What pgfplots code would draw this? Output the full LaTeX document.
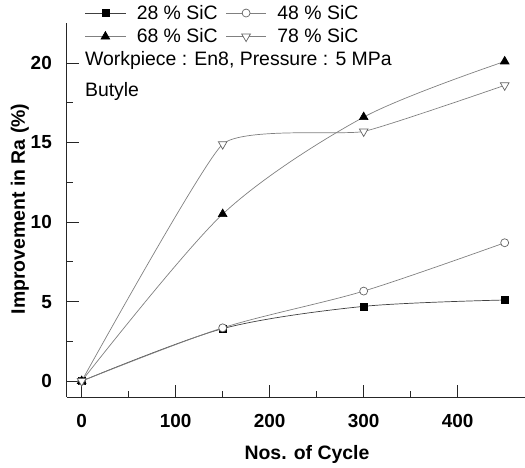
\documentclass[border=0pt]{standalone}
\usepackage{fontspec}
\setmainfont{Liberation Sans}
\usepackage{pgfplots}
\pgfplotsset{compat=1.18}
\definecolor{curve}{RGB}{128,128,128}
\definecolor{edge}{RGB}{100,100,100}
\begin{document}
\begin{tikzpicture}
\useasboundingbox (-67bp,-71bp) rectangle (458bp,397bp);
\begin{axis}[
    scale only axis,
    width=458bp, height=374bp,
    xmin=-15.6, xmax=471.6,
    ymin=-1, ymax=22.52,
    axis lines*=left,
    axis line style={line width=1bp, black!85},
    tick align=inside,
    major tick length=12bp, minor tick length=6bp,
    tick style={line width=0.9bp, black!85},
    xtick={0,100,...,400}, ytick={0,5,...,20},
    minor x tick num=1, minor y tick num=1,
    /pgf/number format/assume math mode=true,
    ticklabel style={font=\bfseries\fontsize{19}{22}\selectfont, inner sep=0pt},
    xticklabel style={anchor=base, yshift=-30bp},
    yticklabel style={anchor=east, xshift=-15bp},
    xlabel={Nos. of Cycle},
    xlabel style={font=\bfseries\fontsize{19.5}{22}\selectfont, inner sep=0pt,
        at={(axis description cs:0.524,-0.168)}, anchor=base},
    ylabel={Improvement in Ra (\%)},
    ylabel style={font=\bfseries\fontsize{19.5}{22}\selectfont, inner sep=0pt,
        at={(axis description cs:-0.092,0.503)}, anchor=base},
    legend columns=2,
    legend image code/.code={%
        \draw[mark repeat=2, mark phase=2, #1]
            plot coordinates {(0bp,0bp) (20bp,0bp) (40bp,0bp)};},
    legend style={draw=none, fill=none, inner sep=0pt,
        at={(axis description cs:0.039,1.048)}, anchor=north west,
        font=\fontsize{19.5}{22}\selectfont,
        nodes={inner sep=0pt},
        row sep=8bp,
        /tikz/every odd column/.append style={column sep=11bp},
        /tikz/every even column/.append style={column sep=8bp}},
    every axis plot/.append style={smooth, line width=0.7bp},
]
\addplot[color=black!75, mark=square*, mark size=3.5bp,
    mark options={fill=black, draw=black}]
    coordinates {(0,0) (150,3.3) (300,4.7) (450,5.1)};
\addplot[color=curve, mark=*, mark size=4bp,
    mark options={fill=white, draw=edge}]
    coordinates {(0,0) (150,3.35) (300,5.66) (450,8.7)};
\addplot[color=curve, mark=triangle*, mark size=5bp,
    mark options={fill=black, draw=black}]
    coordinates {(0,0) (150,10.5) (300,16.6) (450,20.1)};
\addplot[color=curve, mark=triangle*, mark size=5bp, tension=0.25,
    mark options={fill=white, draw=edge, rotate=180}]
    coordinates {(0,0) (150,14.9) (300,15.7) (450,18.6)};
\legend{28 \% SiC, 48 \% SiC, 68 \% SiC, 78 \% SiC}
\node[anchor=base west, inner sep=0pt, font=\fontsize{19.5}{22}\selectfont]
    at (axis description cs:0.039,0.886) {Workpiece : En8, Pressure : 5 MPa};
\node[anchor=base west, inner sep=0pt, font=\fontsize{19.5}{22}\selectfont]
    at (axis description cs:0.039,0.803) {Butyle};
\end{axis}
\end{tikzpicture}
\end{document}
